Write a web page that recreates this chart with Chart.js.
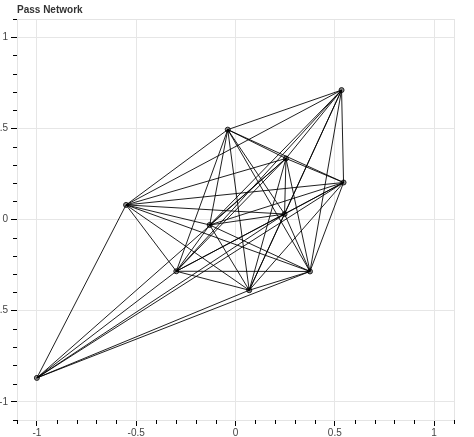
<!DOCTYPE html>
<html>
<head>
<meta charset="utf-8">
<script src="https://cdn.jsdelivr.net/npm/chart.js@4.4.1/dist/chart.umd.min.js"></script>
<style>
  html, body { margin: 0; padding: 0; background: #fff; }
  .wrap { width: 474px; height: 437px; position: relative; }
</style>
</head>
<body>
<div class="wrap"><canvas id="passChart"></canvas></div>
<script>
// Player positions (data coords)
const nodeX = [-1.0, -0.551, -0.039, 0.534, 0.544, 0.254, 0.247, -0.130, -0.298, 0.069, 0.375];
const nodeY = [-0.869, 0.080, 0.493, 0.710, 0.203, 0.335, 0.030, -0.030, -0.284, -0.388, -0.285];

// Passes: edgeFrom[i] -> edgeTo[i]
const edgeFrom = [0, 0, 0, 0, 0, 0, 0,
    1, 1, 1, 1, 1, 1, 1, 1, 1,
    2, 2, 2, 2, 2, 2, 2, 2,
    3, 3, 3, 3, 3, 3, 3,
    4, 4, 4, 4, 4, 4,
    5, 5, 5, 5, 5,
    6, 6, 6, 6,
    7, 7, 7,
    8, 8,
    9];
const edgeTo = [1, 5, 8, 6, 4, 9, 10,
    2, 3, 4, 5, 6, 7, 8, 9, 10,
    3, 4, 5, 6, 7, 8, 9, 10,
    4, 5, 6, 7, 8, 9, 10,
    5, 6, 7, 8, 9, 10,
    6, 7, 8, 9, 10,
    7, 8, 9, 10,
    8, 9, 10,
    9, 10,
    10];

const majorTicks = [-1, -0.5, 0, 0.5, 1];
const axisMin = -1.1;
const axisMax = 1.1;

// one line dataset per pass
const edgeSets = edgeFrom.map((a, i) => {
    const b = edgeTo[i];
    return {
        type: 'scatter',
        data: [{ x: nodeX[a], y: nodeY[a] }, { x: nodeX[b], y: nodeY[b] }],
        showLine: true,
        borderColor: 'rgba(0, 0, 0, 0.88)',
        borderWidth: 1,
        pointRadius: 0,
        pointHoverRadius: 0,
        fill: false
    };
});

const nodeSet = {
    type: 'scatter',
    data: nodeX.map((x, i) => ({ x: x, y: nodeY[i] })),
    pointRadius: 2.5,
    pointBackgroundColor: '#8a8a8a',
    pointBorderColor: '#222',
    pointBorderWidth: 1
};

// light outline on top/right + short minor ticks
const framePlugin = {
    id: 'frame',
    beforeDatasetsDraw(chart) {
        const { ctx, chartArea: a } = chart;
        ctx.save();
        ctx.strokeStyle = '#e4e4e4';
        ctx.lineWidth = 1;
        ctx.strokeRect(a.left + 0.5, a.top + 0.5, a.right - a.left, a.bottom - a.top);
        ctx.restore();
    },
    afterDraw(chart) {
        const { ctx, chartArea: a, scales } = chart;
        ctx.save();
        ctx.strokeStyle = '#000';
        ctx.lineWidth = 1;
        ctx.beginPath();
        for (let i = -11; i <= 11; i++) {
            if (i % 5 === 0) continue;
            const v = i / 10;
            const px = Math.round(scales.x.getPixelForValue(v)) + 0.5;
            ctx.moveTo(px, a.bottom);
            ctx.lineTo(px, a.bottom + 4);
            const py = Math.round(scales.y.getPixelForValue(v)) + 0.5;
            ctx.moveTo(a.left, py);
            ctx.lineTo(a.left - 4, py);
        }
        ctx.stroke();
        ctx.restore();
    }
};

const axisBase = {
    type: 'linear',
    min: axisMin,
    max: axisMax,
    afterBuildTicks: (scale) => {
        scale.ticks = majorTicks.map(v => ({ value: v }));
    },
    grid: {
        color: '#e6e6e6',
        lineWidth: 1,
        drawTicks: true,
        tickLength: 6,
        tickColor: '#000'
    },
    border: { color: '#000', width: 1 }
};

const tickLabel = (value) => String(value);

new Chart(document.getElementById('passChart').getContext('2d'), {
    type: 'scatter',
    data: { datasets: [...edgeSets, nodeSet] },
    options: {
        responsive: true,
        maintainAspectRatio: false,
        animation: false,
        layout: { padding: { right: 20, left: 0, top: 0, bottom: 0 } },
        scales: {
            x: {
                ...axisBase,
                position: 'bottom',
                afterFit: (scale) => { scale.height = 17; },
                ticks: {
                    color: '#444',
                    padding: 1,
                    maxRotation: 0,
                    callback: tickLabel,
                    font: { family: 'Liberation Sans, Arial, sans-serif', size: 10 }
                }
            },
            y: {
                ...axisBase,
                position: 'left',
                afterFit: (scale) => { scale.width = 17; },
                ticks: {
                    color: '#444',
                    padding: 3,
                    callback: tickLabel,
                    font: { family: 'Liberation Sans, Arial, sans-serif', size: 10 }
                }
            }
        },
        plugins: {
            legend: { display: false },
            tooltip: { enabled: false },
            title: {
                display: true,
                text: 'Pass Network',
                align: 'start',
                fullSize: false,
                color: '#333',
                padding: { top: 4, bottom: 3 },
                font: { family: 'Liberation Sans, Arial, sans-serif', size: 10, weight: 'bold' }
            }
        }
    },
    plugins: [framePlugin]
});
</script>
</body>
</html>
